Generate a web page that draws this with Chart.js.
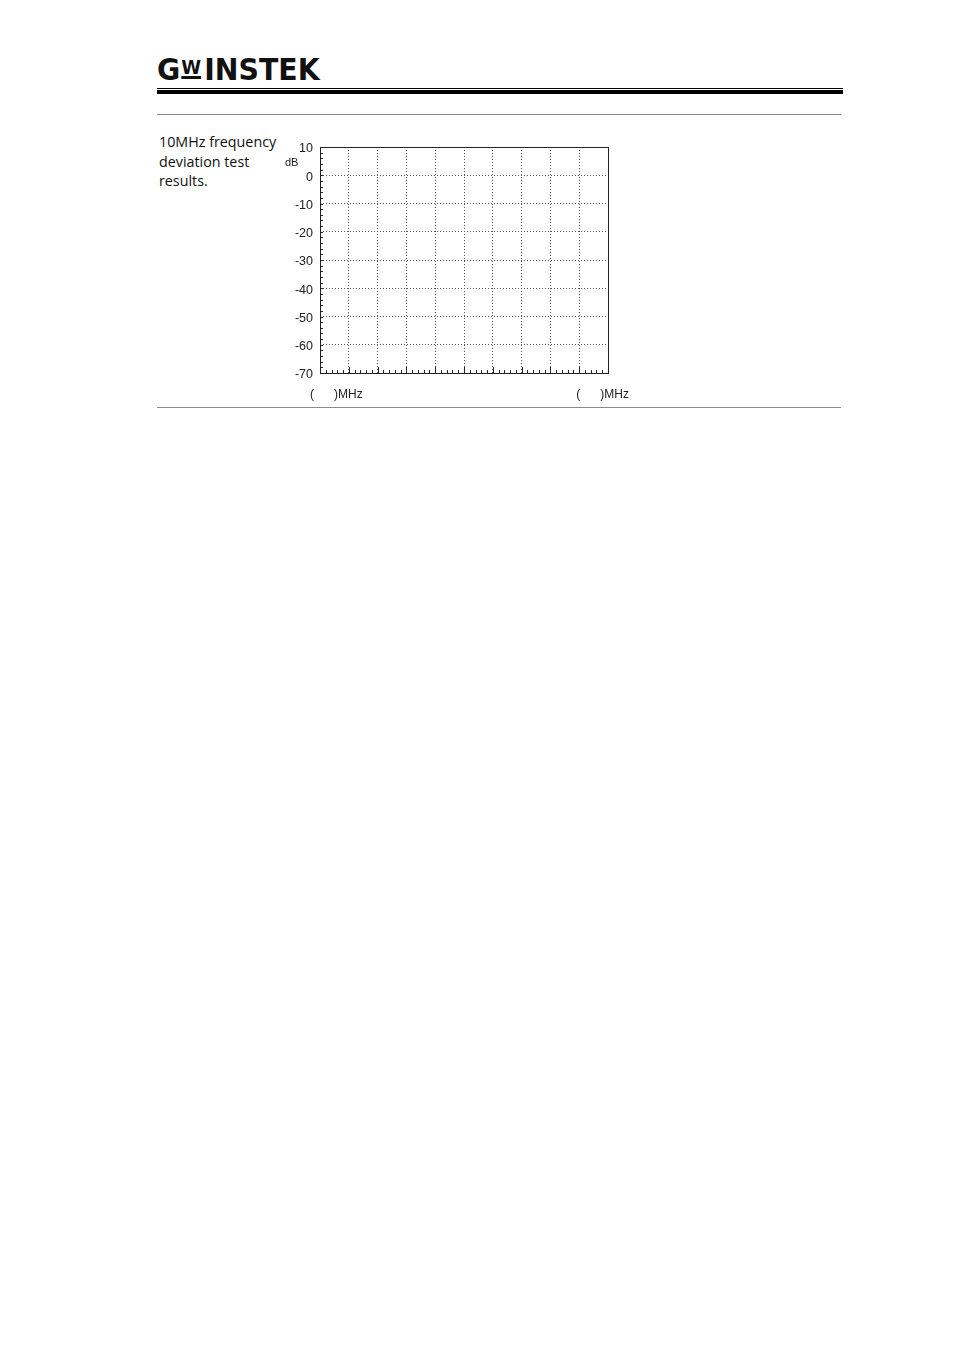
<!DOCTYPE html>
<html>
<head>
<meta charset="utf-8">
<script src="https://cdn.jsdelivr.net/npm/chart.js@4.4.0/dist/chart.umd.min.js"></script>
<style>
  body { margin: 0; background: #fff; width: 954px; height: 1350px; position: relative; font-family: "Open Sans", sans-serif; }
  .logo { position: absolute; left: 157px; top: 49px; font-family: "DejaVu Sans Condensed", "DejaVu Sans", sans-serif; font-weight: bold; font-size: 30px; color: #111; line-height: 36px; transform: scaleX(1.05); transform-origin: left top; }
  .logo .w { font-size: 19px; text-decoration: underline; text-decoration-thickness: 3px; vertical-align: 6px; margin: 0 3px 0 1px; }
  .rule-thin { position: absolute; left: 157px; width: 686px; top: 88px; height: 1px; background: #000; }
  .rule-thick { position: absolute; left: 157px; width: 686px; top: 90px; height: 4px; background: #000; }
  .rule-gray { position: absolute; left: 157px; width: 684px; height: 1px; background: #8a8a8a; }
  .desc { position: absolute; left: 159px; top: 132px; font-size: 14.3px; line-height: 19.5px; color: #111; }
  #wrap { position: absolute; left: 240px; top: 130px; width: 420px; height: 290px; }
</style>
</head>
<body>
<div class="logo">G<span class="w">W</span>INSTEK</div>
<div class="rule-thin"></div>
<div class="rule-thick"></div>
<div class="rule-gray" style="top:114px"></div>
<div class="desc">10MHz frequency<br>deviation test<br>results.</div>
<div id="wrap"><canvas id="myChart"></canvas></div>
<div class="rule-gray" style="top:407px"></div>
<script>
var yMin = -70;
var yMax = 10;
var yStep = 10;
var yMinorStep = 2;
var xDivisions = 10;
var xMinorPerDiv = 5;
var yUnit = "dB";
var xLabelLeft = "(      )MHz";
var xLabelRight = "(      )MHz";
var yValues = [];   // no measured results drawn in the reference

var axisFont = "'Liberation Sans Narrow', 'Liberation Sans', Arial, sans-serif";

var frame = {
  id: "frame",
  afterDraw: function (chart) {
    var ctx = chart.ctx;
    var a = chart.chartArea;
    var xs = chart.scales.x;
    var ys = chart.scales.y;
    ctx.save();
    // box
    ctx.strokeStyle = "#222";
    ctx.lineWidth = 1;
    ctx.strokeRect(Math.round(a.left) + 0.5, Math.round(a.top) + 0.5, Math.round(a.right - a.left), Math.round(a.bottom - a.top));
    // bottom ticks
    ctx.beginPath();
    for (var i = 0; i <= xDivisions * xMinorPerDiv; i++) {
      var px = Math.round(xs.getPixelForValue(i / xMinorPerDiv)) + 0.5;
      var len = (i % xMinorPerDiv === 0) ? 6 : 3;
      ctx.moveTo(px, a.bottom);
      ctx.lineTo(px, a.bottom - len);
    }
    // left ticks
    for (var v = yMin; v <= yMax; v += yMinorStep) {
      var py = Math.round(ys.getPixelForValue(v)) + 0.5;
      ctx.moveTo(a.left, py);
      ctx.lineTo(a.left + 3, py);
    }
    ctx.stroke();
    // texts
    ctx.fillStyle = "#222";
    ctx.font = "11px " + axisFont;
    ctx.textBaseline = "middle";
    ctx.textAlign = "left";
    ctx.fillText(yUnit, a.left - 35, a.top + 16);
    ctx.font = "12px " + axisFont;
    ctx.fillText(xLabelLeft, a.left - 10, a.bottom + 22);
    ctx.fillText(xLabelRight, xs.getPixelForValue(8.9), a.bottom + 22);
    ctx.restore();
  }
};

new Chart("myChart", {
  type: "scatter",
  data: {
    datasets: [{
      label: "results",
      data: yValues,
      borderColor: "#000",
      backgroundColor: "#000"
    }]
  },
  options: {
    responsive: true,
    maintainAspectRatio: false,
    animation: false,
    layout: { padding: { top: 17, right: 52, left: 0, bottom: 0 } },
    plugins: { legend: { display: false }, tooltip: { enabled: false } },
    scales: {
      x: {
        type: "linear",
        min: 0,
        max: xDivisions,
        ticks: { display: false, stepSize: 1 },
        grid: { color: "#555", lineWidth: 1, drawTicks: false },
        border: { display: false, dash: [1, 2] },
        afterFit: function (s) { s.height = 47; }
      },
      y: {
        type: "linear",
        min: yMin,
        max: yMax,
        ticks: { stepSize: yStep, padding: 7, labelOffset: 2, color: "#222", font: { family: axisFont, size: 12.5 } },
        grid: { color: "#555", lineWidth: 1, drawTicks: false },
        border: { display: false, dash: [1, 2] },
        afterFit: function (s) { s.width = 80; }
      }
    }
  },
  plugins: [frame]
});
</script>
</body>
</html>
